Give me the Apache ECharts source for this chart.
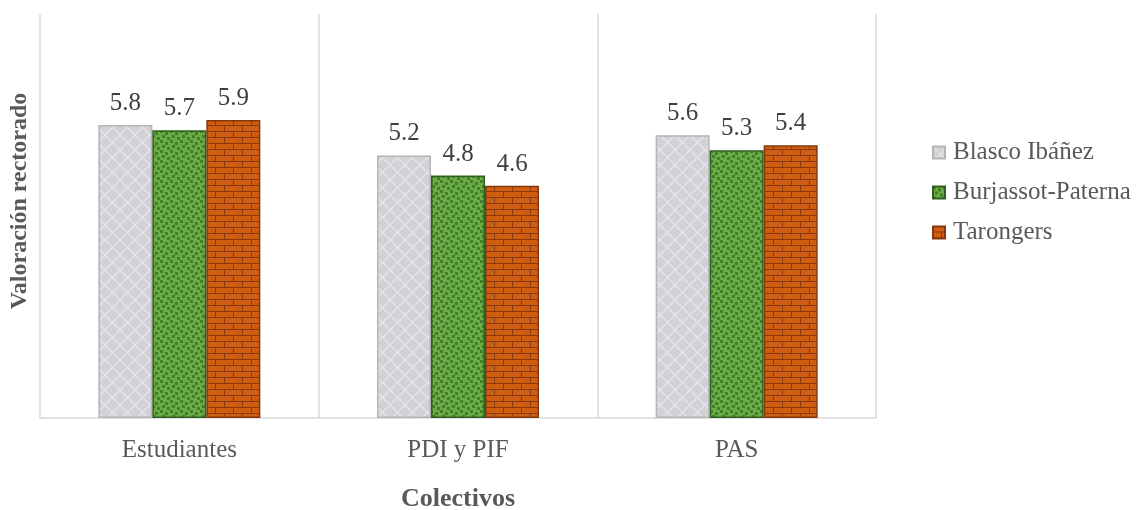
<!DOCTYPE html>
<html><head><meta charset="utf-8">
<script src="https://cdn.jsdelivr.net/npm/echarts@6/dist/echarts.min.js"></script>
<style>html,body{margin:0;padding:0;background:#fff}#c{width:1144px;height:510px}</style>
</head><body><div id="c"></div>
<script>
const categories = ['Estudiantes', 'PDI y PIF', 'PAS'];
const seriesNames = ['Blasco Ibáñez', 'Burjassot-Paterna', 'Tarongers'];
const blasco = [5.8, 5.2, 5.6];
const burjassot = [5.7, 4.8, 5.3];
const tarongers = [5.9, 4.6, 5.4];

function mk(w, h, draw) {
  const c = document.createElement('canvas'); c.width = w; c.height = h;
  draw(c.getContext('2d')); return c;
}
const grayPat = mk(15, 15, g => {
  g.fillStyle = '#d2d1d4'; g.fillRect(0, 0, 15, 15);
  g.strokeStyle = '#e1e6f0'; g.lineWidth = 1.3;
  g.beginPath(); g.moveTo(0, 0); g.lineTo(15, 15); g.moveTo(15, 0); g.lineTo(0, 15); g.stroke();
});
const greenPat = mk(10, 10, g => {
  g.fillStyle = '#6cac47'; g.fillRect(0, 0, 10, 10);
  g.fillStyle = '#417f2b';
  g.fillRect(0, 0, 3, 3); g.fillRect(5, 2, 3, 3); g.fillRect(2, 5, 3, 3); g.fillRect(7, 7, 3, 3);
});
const brickPat = mk(18, 12, g => {
  g.fillStyle = '#cf5e12'; g.fillRect(0, 0, 18, 12);
  g.fillStyle = '#8a3a0c';
  g.fillRect(0, 5, 18, 1); g.fillRect(0, 11, 18, 1);
  g.fillRect(17, 0, 1, 5); g.fillRect(8, 6, 1, 5);
});
const fills = [
  { image: grayPat, repeat: 'repeat' },
  { image: greenPat, repeat: 'repeat' },
  { image: brickPat, repeat: 'repeat' }
];
const borders = ['#b5b5b5', '#2f5f1e', '#84390c'];
const dataSets = [blasco, burjassot, tarongers];
const font = 'Liberation Serif';

const chart = echarts.init(document.getElementById('c'));
chart.setOption({
  animation: false,
  textStyle: { fontFamily: font },
  grid: { left: 40, right: 268, top: 14, bottom: 92, outerBoundsMode: 'none', containLabel: false },
  legend: {
    orient: 'vertical', left: 927, top: 135, itemWidth: 12, itemHeight: 12, itemGap: 15, icon: 'rect',
    textStyle: { fontFamily: font, fontSize: 25, color: '#595959', padding: [0, 0, 0, 3] },
    data: seriesNames
  },
  xAxis: {
    type: 'category', data: categories,
    name: 'Colectivos', nameLocation: 'middle', nameGap: 68,
    nameTextStyle: { fontFamily: font, fontSize: 26, fontWeight: 'bold', color: '#595959' },
    axisLine: { lineStyle: { color: '#d9d9d9', width: 1.5 } },
    axisTick: { show: false },
    axisLabel: { fontFamily: font, fontSize: 25, color: '#595959', margin: 20 },
    splitLine: { show: true, lineStyle: { color: '#d9d9d9', width: 1.5 } }
  },
  yAxis: {
    type: 'value', min: 0, max: 8,
    name: 'Valoración rectorado', nameLocation: 'middle', nameRotate: 90, nameGap: 8,
    nameTextStyle: { fontFamily: font, fontSize: 24, fontWeight: 'bold', color: '#595959', padding: [0, 0, 0, 30] },
    axisLine: { show: false }, axisTick: { show: false }, axisLabel: { show: false },
    splitLine: { show: false }
  },
  series: dataSets.map((d, i) => ({
    name: seriesNames[i], type: 'bar', data: d, barWidth: 54, barGap: '0%',
    itemStyle: { color: fills[i], borderColor: borders[i], borderWidth: 1.5 },
    label: {
      show: true, position: 'top', distance: 9, fontFamily: font, fontSize: 25, color: '#404040',
      formatter: p => p.value.toFixed(1)
    }
  }))
});
</script></body></html>
